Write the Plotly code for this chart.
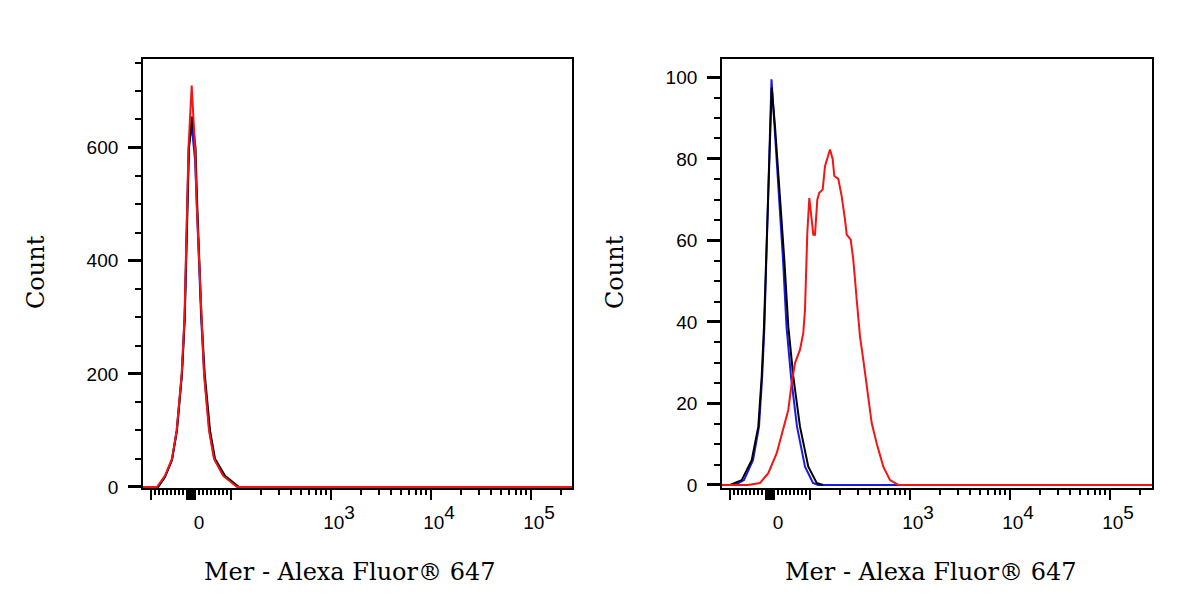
import math
import plotly.graph_objects as go
from plotly.subplots import make_subplots

# histogram curves
# x = display channel on the biexponential scale, y = Count
left_black_x = [-0.48, -0.33, -0.26, -0.19, -0.14, -0.09, -0.062, -0.047, -0.032, -0.02, 0.01,
                0.045, 0.062, 0.085, 0.105, 0.137, 0.19, 0.24, 0.34, 0.48, 3.81]
left_black_y = [0, 0, 18, 48, 100, 200, 300, 400, 500, 600, 655,
                600, 500, 400, 300, 200, 100, 50, 20, 0, 0]
left_blue_x = [-0.48, -0.33, -0.26, -0.19, -0.143, -0.092, -0.064, -0.049, -0.034, -0.023, 0.006,
               0.04, 0.058, 0.081, 0.101, 0.132, 0.183, 0.232, 0.325, 0.47, 3.81]
left_blue_y = [0, 0, 18, 48, 100, 200, 300, 400, 500, 600, 640,
               580, 500, 400, 300, 200, 100, 50, 20, 0, 0]
left_red_x = [-0.48, -0.34, -0.26, -0.19, -0.143, -0.093, -0.065, -0.05, -0.035, -0.025, 0.007,
              0.04, 0.057, 0.08, 0.10, 0.13, 0.18, 0.23, 0.32, 0.46, 3.81]
left_red_y = [0, 0, 20, 50, 100, 200, 300, 400, 500, 600, 710,
              600, 500, 400, 300, 200, 100, 50, 20, 0, 0]

right_black_x = [-0.48, -0.40, -0.283, -0.183, -0.117, -0.083, -0.06, -0.04, -0.02, 0.0, 0.017,
                 0.05, 0.10, 0.143, 0.183, 0.233, 0.30, 0.383, 0.467, 0.53]
right_black_y = [0, 0, 1.2, 6.1, 14.3, 26.6, 38.9, 55.3, 71.7, 88, 97.5,
                 88, 71.7, 55.3, 38.9, 26.6, 14.3, 4.5, 0.5, 0]
right_blue_x = [-0.48, -0.35, -0.26, -0.17, -0.11, -0.078, -0.056, -0.037, -0.018, 0.0, 0.015,
                0.045, 0.09, 0.13, 0.165, 0.21, 0.27, 0.35, 0.43, 0.48, 3.82]
right_blue_y = [0, 0, 1.2, 6.1, 14.3, 26.6, 38.9, 55.3, 71.7, 88, 99.5,
                88, 71.7, 55.3, 38.9, 26.6, 14.3, 4.5, 0.5, 0, 0]
right_red_x = [-0.48, -0.22, -0.1, -0.017, 0.067, 0.133, 0.183, 0.217, 0.25, 0.30, 0.333, 0.35,
               0.36, 0.373, 0.393, 0.433, 0.45, 0.473, 0.493, 0.527, 0.55, 0.573, 0.60, 0.627,
               0.643, 0.683, 0.717, 0.75, 0.767, 0.807, 0.833, 0.867, 0.90, 0.933, 0.967, 1.017,
               1.067, 1.133, 1.20, 1.283, 3.82]
right_red_y = [0, 0, 0.5, 2.9, 7.8, 13.5, 18.4, 25, 29.9, 33.2, 37.3, 43,
               51.2, 61.8, 70.4, 61.4, 61.4, 70, 71.7, 72.5, 78.2, 80.3, 82.3, 79.9,
               75.8, 75.1, 70.8, 65.1, 61.4, 60.2, 55.3, 45.5, 36.4, 30.7, 24.2, 15.2,
               10.2, 4.5, 1.2, 0, 0]

# fluorescence values for axis ticks
exp_tpl = '10<span style="baseline-shift:0.55em">%d</span>'
major_vals = [-100, -9, -8, -7, -6, -5, -4, -3, -2, -1, 0, 1, 2, 3, 4, 5, 6, 7, 8, 9,
              100, 1000, 10000, 100000]
major_text = [""] * 10 + ["0"] + [""] * 9 + ["", exp_tpl % 3, exp_tpl % 4, exp_tpl % 5]
minor_vals = ([-10 * k for k in range(1, 10)] + [10 * k for k in range(1, 10)]
              + [100 * k for k in range(2, 10)] + [1000 * k for k in range(2, 10)]
              + [10000 * k for k in range(2, 10)] + [200000])


def to_channel(v):
    # linear near zero, log above |100|
    if abs(v) <= 100:
        return 0.004 * v
    s = 1 if v > 0 else -1
    return s * (0.40 + math.log10(abs(v) / 100))


fig = make_subplots(rows=1, cols=2)

panels = [
    (1, left_blue_x, left_blue_y, left_black_x, left_black_y, left_red_x, left_red_y),
    (2, right_blue_x, right_blue_y, right_black_x, right_black_y, right_red_x, right_red_y),
]
for col, bx, by, kx, ky, rx, ry in panels:
    fig.add_trace(go.Scatter(x=bx, y=by, mode="lines", line=dict(color="rgb(25,25,235)", width=2)),
                  row=1, col=col)
    fig.add_trace(go.Scatter(x=kx, y=ky, mode="lines", line=dict(color="black", width=2)),
                  row=1, col=col)
    fig.add_trace(go.Scatter(x=rx, y=ry, mode="lines", line=dict(color="rgb(245,20,20)", width=2)),
                  row=1, col=col)

axis_font = dict(family="Liberation Sans", size=19, color="black")

fig.update_xaxes(
    showgrid=False, zeroline=False, showline=True, linecolor="black", linewidth=1.8, mirror=True,
    tickmode="array", tickvals=[to_channel(v) for v in major_vals], ticktext=major_text,
    ticks="outside", ticklen=10, tickwidth=2, tickcolor="black",
    minor=dict(tickmode="array", tickvals=[to_channel(v) for v in minor_vals],
               ticks="outside", ticklen=5, tickwidth=1.5, tickcolor="black"),
    tickfont=axis_font, ticklabelstandoff=6, ticklabelshift=8,
)
fig.update_xaxes(range=[-0.48, 3.81], domain=[143 / 1200, 572 / 1200], row=1, col=1)
fig.update_xaxes(range=[-0.48, 3.82], domain=[722 / 1200, 1152 / 1200], row=1, col=2)

fig.update_yaxes(
    showgrid=False, zeroline=False, showline=True, linecolor="black", linewidth=1.8, mirror=True,
    ticks="outside", ticklen=13, tickwidth=2.5, tickcolor="black",
    tickfont=axis_font, ticklabelstandoff=6, domain=[1 - 488 / 600, 1 - 59 / 600],
)
fig.update_yaxes(range=[-1.8, 757], tick0=0, dtick=200,
                 minor=dict(dtick=50, ticks="outside", ticklen=6, tickwidth=1.5, tickcolor="black"),
                 row=1, col=1)
fig.update_yaxes(range=[-0.74, 104.5], tick0=0, dtick=20,
                 minor=dict(dtick=5, ticks="outside", ticklen=6, tickwidth=1.5, tickcolor="black"),
                 row=1, col=2)

title_font = dict(family="DejaVu Serif", size=24, color="black")
annotations = [
    dict(text="Count", x=36 / 1200, y=1 - 272 / 600, textangle=-90),
    dict(text="Count", x=615 / 1200, y=1 - 272 / 600, textangle=-90),
    dict(text="Mer - Alexa Fluor® 647", x=349 / 1200, y=1 - 572 / 600),
    dict(text="Mer - Alexa Fluor® 647", x=930 / 1200, y=1 - 572 / 600),
]
for a in annotations:
    fig.add_annotation(xref="paper", yref="paper", showarrow=False, font=title_font,
                       xanchor="center", yanchor="middle", **a)

# the photographed page comes out about 610 px tall, so size the figure to it
fig.update_layout(
    width=1200, height=610, margin=dict(l=0, r=0, t=0, b=0),
    plot_bgcolor="white", paper_bgcolor="white", showlegend=False,
)

page_js = """
document.documentElement.style.overflow = 'hidden';
document.body.style.margin = '0';
document.body.style.overflow = 'hidden';
"""
fig.write_html("out.html", config={"displayModeBar": False}, post_script=page_js)
